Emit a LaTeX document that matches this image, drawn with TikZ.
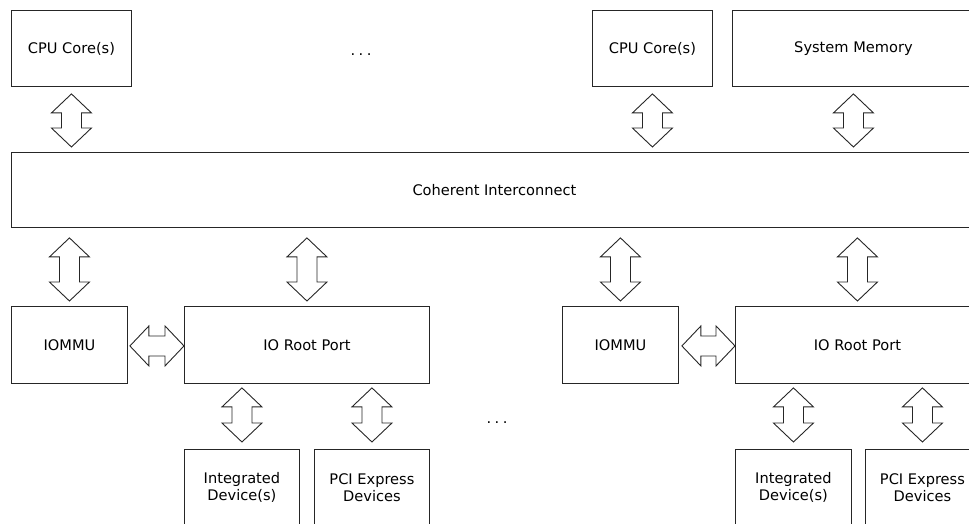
\documentclass[tikz,border=0pt]{standalone}
\usepackage{fontspec}
\setmainfont{DejaVu Sans}
\usetikzlibrary{calc}
\tikzset{
  box/.style={draw=black!85, line width=0.9pt, anchor=north west, inner sep=0pt,
    align=center, font=\fontsize{14.6}{17}\selectfont},
  fat/.style={draw=black!85, line width=0.9pt, fill=white, line join=miter},
  dots/.style={anchor=base, inner sep=0pt, font=\fontsize{14.6}{17}\selectfont}
}
\newcommand\vfat[2]{\draw[fat] (#1) -- ++(20,19) -- ++(-10,0) -- ($(#2)+(10,-19)$) -- ++(10,0) -- (#2) -- ++(-20,-19) -- ++(10,0) -- ($(#1)+(-10,19)$) -- ++(-10,0) -- cycle;}
\newcommand\hfat[2]{\draw[fat] (#1) -- ++(19,-20) -- ++(0,10) -- ($(#2)+(-19,-10)$) -- ++(0,-10) -- (#2) -- ++(-19,20) -- ++(0,-10) -- ($(#1)+(19,10)$) -- ++(0,10) -- cycle;}
\newcommand\mydots{.\hspace{3.5pt}.\hspace{3.5pt}.}
\begin{document}
\begin{tikzpicture}[x=1pt,y=-1pt]
\useasboundingbox (0,0) rectangle (969,523);
\clip (0,0) rectangle (969,523);
% top row
\node[box, minimum width=120pt, minimum height=76pt] (cpu1) at (11,10) {CPU Core(s)};
\node[box, minimum width=120pt, minimum height=76pt] (cpu2) at (592,10) {CPU Core(s)};
\node[box, minimum width=242pt, minimum height=76pt] (mem) at (732,10) {System Memory};
\node[dots] (d1) at (361,55) {\mydots};
% interconnect
\node[box, minimum width=966pt, minimum height=75pt] (ic) at (11,152) {Coherent Interconnect};
% middle row
\node[box, minimum width=116pt, minimum height=77pt] (iommu1) at (11,306) {IOMMU};
\node[box, minimum width=245pt, minimum height=77pt] (io1) at (184,306) {IO Root Port};
\node[box, minimum width=116pt, minimum height=77pt] (iommu2) at (562,306) {IOMMU};
\node[box, minimum width=244pt, minimum height=77pt] (io2) at (735,306) {IO Root Port};
% bottom row
\node[box, minimum width=115pt, minimum height=76pt] (int1) at (184,449) {Integrated\\Device(s)};
\node[box, minimum width=115pt, minimum height=76pt] (pci1) at (314,449) {PCI Express\\Devices};
\node[box, minimum width=116pt, minimum height=76pt] (int2) at (735,449) {Integrated\\Device(s)};
\node[box, minimum width=114pt, minimum height=76pt] (pci2) at (865,449) {PCI Express\\Devices};
\node[dots] (d2) at (497,423) {\mydots};
% arrow end points
\foreach \n in {cpu1,cpu2,mem}{
  \coordinate (\n-t) at ($(\n.south)+(0,7)$);
  \coordinate (\n-b) at ($(\n.south |- ic.north)+(0,-5)$);
}
\foreach \n in {iommu1,io1,iommu2,io2}{
  \coordinate (\n-t) at ($(\n.north |- ic.south)+(0,10)$);
  \coordinate (\n-b) at ($(\n.north)+(0,-5)$);
}
\coordinate (int1-t) at ($(int1.north |- io1.south)+(0,4)$);
\coordinate (int1-b) at ($(int1.north)+(0,-7)$);
\coordinate (pci1-t) at ($(pci1.north |- io1.south)+(0,4)$);
\coordinate (pci1-b) at ($(pci1.north)+(0,-7)$);
\coordinate (int2-t) at ($(int2.north |- io2.south)+(0,4)$);
\coordinate (int2-b) at ($(int2.north)+(0,-7)$);
\coordinate (pci2-t) at ($(pci2.north |- io2.south)+(0,4)$);
\coordinate (pci2-b) at ($(pci2.north)+(0,-7)$);
% vertical arrows
\foreach \n in {cpu1,cpu2,mem,iommu1,io1,iommu2,io2,int1,pci1,int2,pci2}{
  \vfat{\n-t}{\n-b}
}
% horizontal arrows
\coordinate (h1l) at ($(iommu1.east)+(2,1)$);
\coordinate (h1r) at ($(io1.west)+(0,1)$);
\coordinate (h2l) at ($(iommu2.east)+(3,1)$);
\coordinate (h2r) at ($(io2.west)+(0,1)$);
\hfat{h1l}{h1r}
\hfat{h2l}{h2r}
\end{tikzpicture}
\end{document}
